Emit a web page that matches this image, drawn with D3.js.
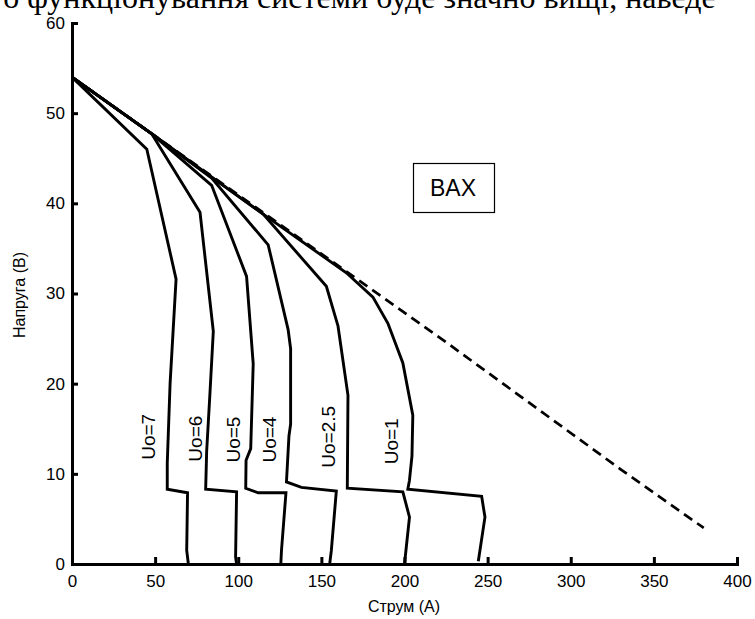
<!DOCTYPE html>
<html>
<head>
<meta charset="utf-8">
<script src="https://cdn.jsdelivr.net/npm/d3@7"></script>
<style>
  body { margin: 0; background: #fff; }
  svg text { font-family: "Liberation Sans", Arial, sans-serif; fill: #000; }
</style>
</head>
<body>
<div id="vis"></div>
<script>
// Current (A) / voltage (V) points for each curve
var uo7_I = [0, 45, 62.6, 59, 57.3, 57.3, 69.5, 69, 70];
var uo7_U = [54, 46, 31.6, 20, 11.2, 8.3, 7.9, 1.5, 0];

var uo6_I = [0, 48, 77, 85, 83, 81, 80.4, 99, 98.4, 99];
var uo6_U = [54, 47.7, 39, 25.8, 19, 12.5, 8.3, 8.0, 0.8, 0];

var uo5_I = [0, 48, 84, 105, 109, 107.5, 104.7, 104.5, 112, 128.7, 126, 125.6];
var uo5_U = [54, 47.7, 42, 31.9, 22.2, 12.8, 11.5, 8.4, 7.9, 7.9, 1.5, 0];

var uo4_I = [0, 48, 84, 118, 130, 131.5, 131.5, 130.5, 129, 138, 159, 156, 155];
var uo4_U = [54, 47.7, 42.8, 35.4, 26, 23.9, 15.5, 14.2, 9.1, 8.5, 8.1, 1.5, 0];

var uo25_I = [0, 48, 84, 115, 153, 160, 166, 165.6, 199, 203, 200];
var uo25_U = [54, 47.7, 42.9, 38.8, 30.8, 26.4, 18.7, 8.4, 8.0, 5.2, 0];

var uo1_I = [0, 48, 84, 115, 165, 181, 190, 199, 205, 204.5, 203, 202, 246.4, 248.4, 244.4];
var uo1_U = [54, 47.7, 42.9, 38.8, 32.3, 29.6, 26.7, 22.3, 16.5, 12, 9.3, 8.3, 7.5, 5.2, 0.3];

// ideal characteristic (dashed)
var ideal_I = [0, 225, 330, 380];
var ideal_U = [54, 24.6, 10.5, 4];

var curveNames = ["Uo=7", "Uo=6", "Uo=5", "Uo=4", "Uo=2.5", "Uo=1"];
var labelI = [46, 74, 97, 119, 154, 192];
var labelU = [14.1, 13.9, 13.8, 13.8, 14.1, 13.6];

var xTicks = [0, 50, 100, 150, 200, 250, 300, 350, 400];
var yTicks = [0, 10, 20, 30, 40, 50, 60];

var w = 755;
var h = 619;

var svg = d3.select("#vis")
            .append("svg")
            .attr("width", w)
            .attr("height", h);

var x_scale = d3.scaleLinear()
                .domain([0, 400])
                .range([72, 737]);

var y_scale = d3.scaleLinear()
                .domain([0, 60])
                .range([564, 23]);

// page text cut off at the top
svg.append("text")
   .attr("x", -9)
   .attr("y", 8)
   .style("font-family", "'Liberation Serif', 'Times New Roman', serif")
   .style("font-size", "32px")
   .text("го функціонування системи буде значно вищі, наведе");

function zipPts(xs, ys) {
  return xs.map((d, i) => [d, ys[i]]);
}

var curves = [
  zipPts(uo7_I, uo7_U),
  zipPts(uo6_I, uo6_U),
  zipPts(uo5_I, uo5_U),
  zipPts(uo4_I, uo4_U),
  zipPts(uo25_I, uo25_U),
  zipPts(uo1_I, uo1_U)
];

var line = d3.line()
             .x(d => x_scale(d[0]))
             .y(d => y_scale(d[1]));

svg.append("path")
   .datum(zipPts(ideal_I, ideal_U))
   .attr("d", line)
   .attr("fill", "none")
   .attr("stroke", "#000")
   .attr("stroke-width", 2.7)
   .attr("stroke-dasharray", "10,6");

svg.selectAll("path.vac")
   .data(curves)
   .enter()
   .append("path")
   .attr("class", "vac")
   .attr("d", line)
   .attr("fill", "none")
   .attr("stroke", "#000")
   .attr("stroke-width", 2.9);

// curve labels, written upward
svg.selectAll("text.lab")
   .data(curveNames)
   .enter()
   .append("text")
   .attr("class", "lab")
   .attr("transform", (d, i) => `translate(${x_scale(labelI[i])},${y_scale(labelU[i])}) rotate(-90)`)
   .attr("text-anchor", "middle")
   .attr("dominant-baseline", "central")
   .style("font-size", "19px")
   .text(d => d);

// axes, ticks point inward
var xAxis = svg.append("g")
   .attr("transform", `translate(0,${y_scale(0)})`)
   .call(d3.axisBottom(x_scale).tickValues(xTicks).tickSizeInner(-7).tickSizeOuter(0).tickPadding(11));

var yAxis = svg.append("g")
   .attr("transform", `translate(${x_scale(0)},0)`)
   .call(d3.axisLeft(y_scale).tickValues(yTicks).tickSizeInner(-6).tickSizeOuter(0).tickPadding(7));

[xAxis, yAxis].forEach(function(g) {
  g.select(".domain").attr("stroke-width", 3).attr("stroke-linecap", "square");
  g.selectAll(".tick line").attr("stroke-width", 3);
  g.selectAll(".tick text")
   .style("font-family", "'Liberation Sans', Arial, sans-serif")
   .style("font-size", "17px")
   .attr("fill", "#000");
});

svg.append("text")
   .attr("x", 404)
   .attr("y", 612)
   .attr("text-anchor", "middle")
   .style("font-size", "16px")
   .text("Струм (А)");

svg.append("text")
   .attr("transform", "translate(25,295) rotate(-90)")
   .attr("text-anchor", "middle")
   .style("font-size", "16px")
   .text("Напруга (В)");

// boxed caption
svg.append("rect")
   .attr("x", 413.5)
   .attr("y", 163.5)
   .attr("width", 81)
   .attr("height", 49)
   .attr("fill", "#fff")
   .attr("stroke", "#000")
   .attr("stroke-width", 1.2);

svg.append("text")
   .attr("x", 453)
   .attr("y", 188)
   .attr("text-anchor", "middle")
   .attr("dominant-baseline", "central")
   .style("font-size", "23px")
   .text("BAX");
</script>
</body>
</html>
